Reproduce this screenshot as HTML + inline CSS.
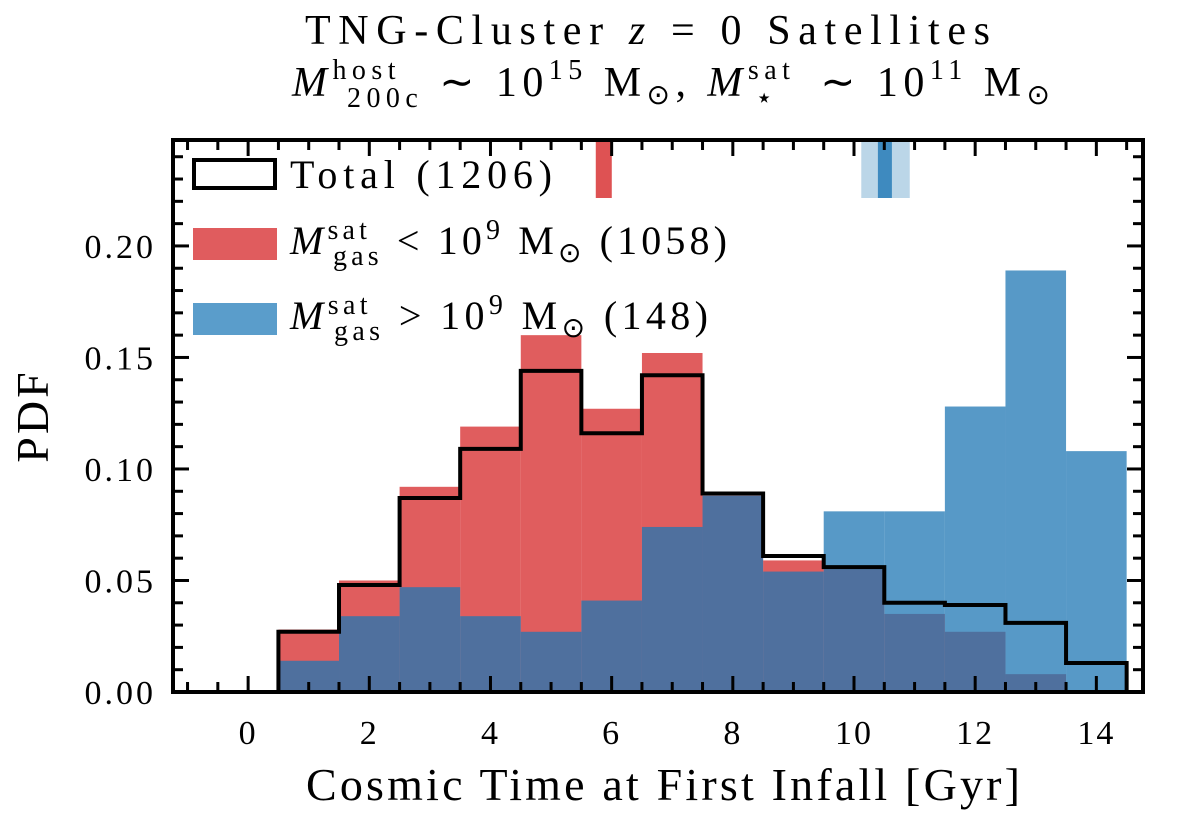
<!DOCTYPE html>
<html><head><meta charset="utf-8"><style>
body{margin:0;background:#fff;}
svg text{font-family:"Liberation Serif",serif;fill:#000;}
</style></head><body>
<svg width="1200" height="825" xmlns="http://www.w3.org/2000/svg">
<g id="marks"></g>
<g id="axes"></g>
<text x="305" y="44" font-size="42" textLength="685" lengthAdjust="spacing">TNG-Cluster <tspan font-style="italic">z</tspan> = 0 Satellites</text>
<text x="292" y="96" font-size="42" textLength="758" lengthAdjust="spacing"><tspan font-style="italic">M</tspan><tspan font-size="28" dy="-17">host</tspan><tspan font-size="28" dx="-54" dy="28">200c</tspan><tspan dy="-11"> ∼ 10</tspan><tspan font-size="28" dy="-17">15</tspan><tspan dy="17"> M</tspan><tspan font-size="28" dy="8">⊙</tspan><tspan dy="-8">,  </tspan><tspan font-style="italic">M</tspan><tspan font-size="28" dy="-17">sat</tspan><tspan font-size="28" dx="-40" dy="28">⋆</tspan><tspan dx="26" dy="-11"> ∼ 10</tspan><tspan font-size="28" dy="-17">11</tspan><tspan dy="17"> M</tspan><tspan font-size="28" dy="8">⊙</tspan></text>
<text x="306" y="800" font-size="46" textLength="714" lengthAdjust="spacing">Cosmic Time at First Infall [Gyr]</text>
<text transform="translate(48,416) rotate(-90)" font-size="46" text-anchor="middle" letter-spacing="3">PDF</text>
<g>
<rect x="194" y="160" width="81" height="28" fill="none" stroke="#000" stroke-width="4"/>
<text x="290" y="188" font-size="40" textLength="262" lengthAdjust="spacing">Total (1206)</text>
<rect x="193" y="228" width="84" height="32" fill="#e05c5e"/>
<text x="290" y="254" font-size="40" textLength="437" lengthAdjust="spacing"><tspan font-style="italic">M</tspan><tspan font-size="28" dy="-15">sat</tspan><tspan font-size="28" dx="-38" dy="26">gas</tspan><tspan dy="-11"> &lt; 10</tspan><tspan font-size="28" dy="-15">9</tspan><tspan dy="15"> M</tspan><tspan font-size="28" dy="8">⊙</tspan><tspan dy="-8"> (1058)</tspan></text>
<rect x="193" y="303" width="84" height="32" fill="#5a9dcb"/>
<text x="290" y="329" font-size="40" textLength="418" lengthAdjust="spacing"><tspan font-style="italic">M</tspan><tspan font-size="28" dy="-15">sat</tspan><tspan font-size="28" dx="-38" dy="26">gas</tspan><tspan dy="-11"> &gt; 10</tspan><tspan font-size="28" dy="-15">9</tspan><tspan dy="15"> M</tspan><tspan font-size="28" dy="8">⊙</tspan><tspan dy="-8"> (148)</tspan></text>
</g>
<script>
const binCenters=[1,2,3,4,5,6,7,8,9,10,11,12,13,14];
const redValues=[0.028,0.050,0.092,0.119,0.160,0.127,0.152,0.088,0.059,0.055,0.035,0.027,0.008,0];
const blueValues=[0.014,0.034,0.047,0.034,0.027,0.041,0.074,0.088,0.054,0.081,0.081,0.128,0.189,0.108];
const totalValues=[0.027,0.048,0.087,0.109,0.144,0.116,0.142,0.089,0.061,0.056,0.040,0.039,0.031,0.013];
const xTicks=[0,2,4,6,8,10,12,14];
const yTicks=[0,0.05,0.10,0.15,0.20];
const yTickLabels=["0.00","0.05","0.10","0.15","0.20"];
const redMedian=5.87, blueMedian=10.51, blueLo=10.12, blueHi=10.92;
const X0=173,X1=1143,Y0=692,Y1=140;
const xmin=-1.24,xmax=14.77,ymin=0,ymax=0.2475;
const sx=v=>X0+(v-xmin)/(xmax-xmin)*(X1-X0);
const sy=v=>Y0-(v-ymin)/(ymax-ymin)*(Y0-Y1);
const NS="http://www.w3.org/2000/svg";
const marks=document.getElementById('marks'),axes=document.getElementById('axes');
function mk(tag,at,parent){const e=document.createElementNS(NS,tag);for(const k in at)e.setAttribute(k,at[k]);parent.appendChild(e);return e;}
binCenters.forEach((c,i)=>{
 const r=mk('rect',{x:sx(c-0.5),y:sy(redValues[i]),width:sx(c+0.5)-sx(c-0.5),height:sy(0)-sy(redValues[i]),fill:'#d62728','fill-opacity':0.75},marks);
 
 
});
binCenters.forEach((c,i)=>{
 const r=mk('rect',{x:sx(c-0.5),y:sy(blueValues[i]),width:sx(c+0.5)-sx(c-0.5),height:sy(0)-sy(blueValues[i]),fill:'#1f77b4','fill-opacity':0.75},marks);
 
 
});
let d=`M${sx(binCenters[0]-0.5)},${sy(0)}`;
binCenters.forEach((c,i)=>{d+=` L${sx(c-0.5)},${sy(totalValues[i])} L${sx(c+0.5)},${sy(totalValues[i])}`;});
d+=` L${sx(binCenters[binCenters.length-1]+0.5)},${sy(0)}`;
const st=mk('path',{d:d,fill:'none',stroke:'#000','stroke-width':4},marks);


const bl=mk('rect',{x:sx(blueLo),y:Y1,width:sx(blueHi)-sx(blueLo),height:58,fill:'#1f77b4','fill-opacity':0.3},marks);


const bm=mk('rect',{x:sx(blueMedian)-7,y:Y1,width:14,height:58,fill:'#1f77b4','fill-opacity':0.8},marks);


const rm=mk('rect',{x:sx(redMedian)-8,y:Y1,width:16,height:58,fill:'#d62728','fill-opacity':0.8},marks);


for(let v=-1;v<=14.5;v+=0.5){const maj=xTicks.includes(v);const L=maj?16:10;
 mk('line',{x1:sx(v),x2:sx(v),y1:Y0,y2:Y0-L,stroke:'#000','stroke-width':3},axes);
 mk('line',{x1:sx(v),x2:sx(v),y1:Y1,y2:Y1+L,stroke:'#000','stroke-width':3},axes);}
for(let k=0;k<=24;k++){const v=k*0.01;const maj=k%5===0;const L=maj?16:10;
 mk('line',{x1:X0,x2:X0+L,y1:sy(v),y2:sy(v),stroke:'#000','stroke-width':3},axes);
 mk('line',{x1:X1,x2:X1-L,y1:sy(v),y2:sy(v),stroke:'#000','stroke-width':3},axes);}
xTicks.forEach(v=>{const t=mk('text',{x:sx(v),y:744,'font-size':34,'text-anchor':'middle','letter-spacing':2},axes);t.textContent=v;
 
 });
yTicks.forEach((v,i)=>{const t=mk('text',{x:156,y:sy(v)+12,'font-size':34,'text-anchor':'end','letter-spacing':3},axes);t.textContent=yTickLabels[i];
 
 });
const fr=mk('rect',{x:X0,y:Y1,width:X1-X0,height:Y0-Y1,fill:'none',stroke:'#000','stroke-width':4},axes);


</script>
</svg>
</body></html>
